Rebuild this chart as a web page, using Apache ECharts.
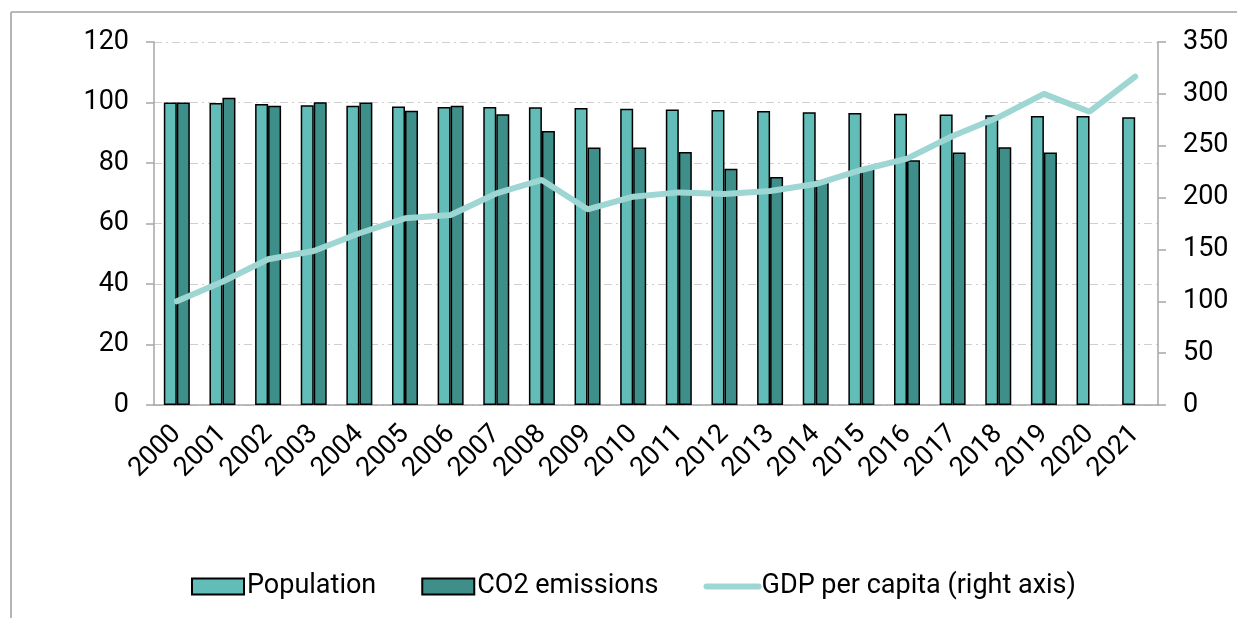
<!DOCTYPE html>
<html style="height: 100%">
<head>
	<meta charset="utf-8">
	<title>Population, CO2 emissions and GDP per capita</title>
	<script src="https://cdn.jsdelivr.net/npm/echarts@6/dist/echarts.min.js"></script>
</head>
<body style="height: 100%; margin: 0; background: #fff">
	<div id="main" style="width: 1237px; height: 618px"></div>
	<script type="text/javascript">

		// index, 2000 = 100
		var years = ['2000','2001','2002','2003','2004','2005','2006','2007','2008','2009','2010',
			'2011','2012','2013','2014','2015','2016','2017','2018','2019','2020','2021'];
		var population = [100, 99.8, 99.5, 99.1, 98.9, 98.7, 98.5, 98.5, 98.4, 98.2, 97.9,
			97.7, 97.5, 97.2, 96.8, 96.5, 96.3, 96.0, 95.8, 95.5, 95.5, 95.1];
		var co2 = [100, 101.6, 98.9, 100.1, 100, 97.3, 98.9, 96.1, 90.6, 85.1, 85.1,
			83.6, 78.1, 75.4, 74.2, 78.2, 80.9, 83.5, 85.2, 83.5, null, null];
		var gdp = [100, 118.9, 140.5, 148.5, 165.6, 180, 183.2, 204, 217, 188.7, 200.9,
			205, 203.5, 206.4, 213, 226.6, 237.5, 259.4, 277.4, 300, 282.8, 316.6];
		var leftTicks = {min: 0, max: 120, interval: 20};
		var rightTicks = {min: 0, max: 350, interval: 50};

		var font = 'Roboto';
		var axisGrey = '#a6a6a6';
		var lineColor = '#9dd6d3';
		var fs = 27;

		var myChart = echarts.init(document.getElementById('main'));

		var option = {
			animation: false,
			textStyle: {fontFamily: font, color: '#000'},
			grid: {left: 154, right: 79, top: 42, bottom: 213},
			legend: {
				bottom: 13,
				left: 186,
				itemGap: 45,
				itemWidth: 52,
				itemHeight: 16,
				textStyle: {fontFamily: font, fontSize: fs, color: '#000', padding: [0, 0, 0, -2]},
				data: [
					{name: 'Population', icon: 'rect'},
					{name: 'CO2 emissions', icon: 'rect'},
					{name: 'GDP per capita (right axis)', itemStyle: {opacity: 0},
						lineStyle: {color: lineColor, width: 6, cap: 'round'}}]
			},
			graphic: [
				{type: 'line', shape: {x1: 11, y1: 12, x2: 1237, y2: 12}, style: {stroke: '#a0a0a0', lineWidth: 1.5}},
				{type: 'line', shape: {x1: 11, y1: 12, x2: 11, y2: 618}, style: {stroke: '#b5b5b5', lineWidth: 2}}
			],
			xAxis: {
				type: 'category',
				data: years,
				axisTick: {show: false},
				axisLine: {lineStyle: {color: axisGrey, width: 1.5}},
				axisLabel: {rotate: 45, fontSize: fs, color: '#000', margin: 25, interval: 0}
			},
			yAxis: [
				{
					type: 'value',
					min: leftTicks.min, max: leftTicks.max, interval: leftTicks.interval,
					axisLine: {show: true, lineStyle: {color: axisGrey, width: 1.5}},
					axisTick: {show: true, length: 8, lineStyle: {color: axisGrey, width: 1.5}},
					axisLabel: {fontSize: fs, color: '#000', margin: 25},
					splitLine: {lineStyle: {color: '#cfcfcf', width: 1, type: [8, 4, 2, 4]}}
				},
				{
					type: 'value',
					min: rightTicks.min, max: rightTicks.max, interval: rightTicks.interval,
					position: 'right',
					axisLine: {show: true, lineStyle: {color: axisGrey, width: 1.5}},
					axisTick: {show: true, length: 8, lineStyle: {color: axisGrey, width: 1.5}},
					axisLabel: {fontSize: fs, color: '#000', margin: 25},
					splitLine: {show: false}
				}
			],
			series: [
				{
					name: 'Population',
					type: 'bar',
					data: population,
					barWidth: 13,
					barGap: '0%',
					itemStyle: {color: '#62bdb9', borderColor: '#000', borderWidth: 1.5}
				},
				{
					name: 'CO2 emissions',
					type: 'bar',
					data: co2,
					barWidth: 13,
					barGap: '0%',
					itemStyle: {color: '#3e8e8a', borderColor: '#000', borderWidth: 1.5}
				},
				{
					name: 'GDP per capita (right axis)',
					type: 'line',
					yAxisIndex: 1,
					data: gdp,
					symbol: 'none',
					z: 5,
					lineStyle: {color: lineColor, width: 6, cap: 'round'},
					itemStyle: {color: lineColor}
				}
			]
		};

		myChart.setOption(option);
	</script>
</body>
</html>
